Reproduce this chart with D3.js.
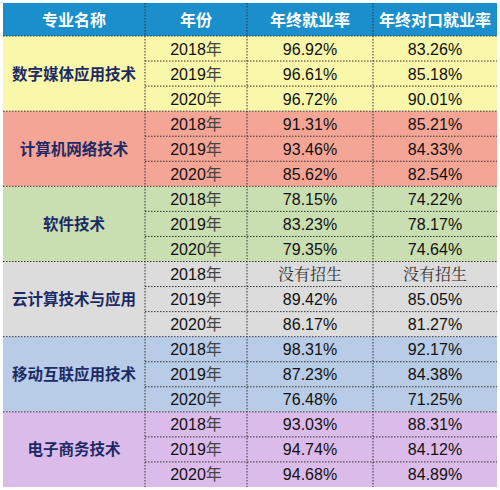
<!DOCTYPE html>
<html><head><meta charset="UTF-8">
<script src="https://d3js.org/d3.v7.min.js"></script>
<style>body{margin:0;background:#fff}</style></head>
<body><svg id="t" width="500" height="490"></svg>
<script>
const headers = ["专业名称", "年份", "年终就业率", "年终对口就业率"];
const majors = ["数字媒体应用技术", "计算机网络技术", "软件技术", "云计算技术与应用", "移动互联应用技术", "电子商务技术"];
const years = ["2018", "2019", "2020"];
const empRate = [["96.92%","96.61%","96.72%"],["91.31%","93.46%","85.62%"],["78.15%","83.23%","79.35%"],["没有招生","89.42%","86.17%"],["98.31%","87.23%","76.48%"],["93.03%","94.74%","94.68%"]];
const matchRate = [["83.26%","85.18%","90.01%"],["85.21%","84.33%","82.54%"],["74.22%","78.17%","74.64%"],["没有招生","85.05%","81.27%"],["92.17%","84.38%","71.25%"],["88.31%","84.12%","84.89%"]];
const fills = ["#f9f7a9","#f5a596","#cadfb1","#dcdcdc","#b8cbe7","#dbbbea"];

const svg = d3.select("#t");
const colEdges = [3,145,247,373,497];
const x = i => colEdges[i];
const y = d3.scaleLinear().domain([0,18]).range([36,487]);
const topY = 3;

// header
svg.append("rect").attr("x",3).attr("y",topY).attr("width",494).attr("height",y(0)-topY).attr("fill","#1b8fcb");
headers.forEach((h,i)=>svg.append("text").attr("x",(x(i)+x(i+1))/2).attr("y",(topY+y(0))/2+6)
  .attr("text-anchor","middle").attr("fill","#fff").attr("font-size",16).attr("font-weight","bold")
  .attr("font-family","Noto Sans CJK SC").text(h));

majors.forEach((m,g)=>{
  svg.append("rect").attr("x",3).attr("y",y(g*3)).attr("width",494).attr("height",y(g*3+3)-y(g*3)).attr("fill",fills[g]);
  svg.append("text").attr("x",(x(0)+x(1))/2).attr("y",(y(g*3)+y(g*3+3))/2+6).attr("text-anchor","middle")
    .attr("fill","#1c2a66").attr("font-size",15.5).attr("font-weight","bold").attr("font-family","Noto Sans CJK SC").text(m);
  years.forEach((yr,r)=>{
    const cy = (y(g*3+r)+y(g*3+r+1))/2+6;
    const t = svg.append("text").attr("x",(x(1)+x(2))/2).attr("y",cy).attr("text-anchor","middle").attr("font-size",16).attr("fill","#111");
    t.append("tspan").attr("font-family","Liberation Sans").text(yr);
    t.append("tspan").attr("font-family","Noto Sans CJK SC").attr("fill","#444").text("年");
    [empRate, matchRate].forEach((arr,c)=>{
      const v = arr[g][r];
      svg.append("text").attr("x",(x(c+2)+x(c+3))/2).attr("y",cy).attr("text-anchor","middle").attr("font-size",16)
        .attr("fill", v.includes("%")?"#111":"#333")
        .attr("font-family", v.includes("%")?"Liberation Sans":"Noto Serif CJK SC, Noto Sans CJK SC").text(v);
    });
    if(r>0) svg.append("line").attr("x1",x(1)).attr("x2",497).attr("y1",y(g*3+r)).attr("y2",y(g*3+r))
      .attr("stroke","#333").attr("stroke-dasharray","1.5,1.5");
  });
  svg.append("line").attr("x1",3).attr("x2",497).attr("y1",y(g*3)).attr("y2",y(g*3)).attr("stroke","#333").attr("stroke-dasharray","1.5,1.5");
});
[1,2,3].forEach(i=>svg.append("line").attr("x1",x(i)).attr("x2",x(i)).attr("y1",topY).attr("y2",y(18))
  .attr("stroke","#333").attr("stroke-dasharray","1.5,1.5"));
</script></body></html>
